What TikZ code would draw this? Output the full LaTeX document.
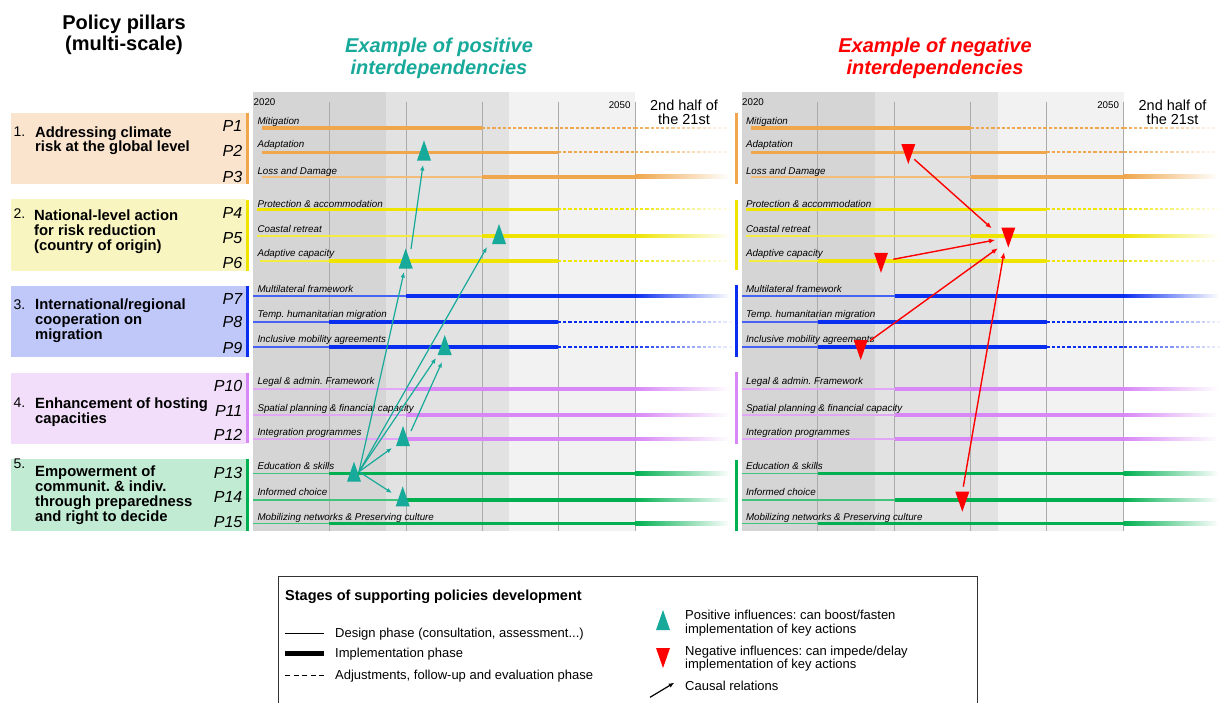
\documentclass[tikz,border=0pt]{standalone}
\usepackage{fontspec}
\setmainfont{Liberation Sans}
\usetikzlibrary{arrows.meta}
\frenchspacing
\definecolor{porange}{HTML}{EFA64C}
\definecolor{pyellow}{HTML}{EEE400}
\definecolor{pblue}{HTML}{0A2EF0}
\definecolor{ppurple}{HTML}{D888F6}
\definecolor{pgreen}{HTML}{00B050}
\definecolor{fillA}{HTML}{FBE4CE}
\definecolor{fillB}{HTML}{F8F5C0}
\definecolor{fillC}{HTML}{C0C8FA}
\definecolor{fillD}{HTML}{F2DEFA}
\definecolor{fillE}{HTML}{C2EBD3}
\definecolor{tealc}{HTML}{17A999}
\definecolor{redc}{HTML}{FF0000}
\definecolor{gdark}{HTML}{D5D5D5}
\definecolor{gmid}{HTML}{E2E2E2}
\definecolor{glight}{HTML}{F2F2F2}
\definecolor{gridc}{HTML}{ABABAB}
\tikzset{
  thinseg/.style={line width=1.6pt},
  thickseg/.style={line width=3.6pt},
  dashseg/.style={line width=1.9pt, dash pattern=on 3.2pt off 2pt},
  rowlabel/.style={anchor=base west, inner sep=0, font=\fontsize{9.8}{11}\selectfont\itshape},
  plabel/.style={anchor=base east, inner sep=0, font=\fontsize{16}{18}\selectfont\itshape},
  pillartext/.style={anchor=base west, inner sep=0, font=\fontsize{14.8}{15}\selectfont\bfseries},
  pillarnum/.style={anchor=base west, inner sep=0, font=\fontsize{14}{15}\selectfont},
  yeartext/.style={inner sep=0, font=\fontsize{9.75}{11}\selectfont},
  halftext/.style={anchor=base, inner sep=0, font=\fontsize{14.5}{15}\selectfont},
  titletext/.style={anchor=base, inner sep=0, font=\fontsize{20}{22}\selectfont\bfseries},
  extitle/.style={anchor=base, inner sep=0, font=\fontsize{20}{22}\selectfont\bfseries\itshape},
  legtext/.style={anchor=base west, inner sep=0, font=\fontsize{13}{14}\selectfont},
  trinode/.style={inner sep=0, outer sep=0, minimum width=14pt, minimum height=20pt},
  parrow/.style={tealc, line width=1.2pt, -{Latex[length=5.5pt,width=4.5pt]}},
  narrow/.style={redc, line width=1.4pt, -{Latex[length=6pt,width=5pt]}},
  larrow/.style={black, line width=1.2pt, -{Latex[length=5.5pt,width=4.5pt]}}
}
% row with dashed follow-up phase: xoff, y, colour, start, impl start, impl end
\newcommand\tlrowA[6]{%
  \draw[thinseg,#3!75!white] ({#1+#4},#2) -- ({#1+#5},#2);
  \draw[thickseg,#3] ({#1+#5},#2) -- ({#1+#6},#2);
  \draw[dashseg,#3] ({#1+#6},#2) -- ({#1+635},#2);
  \foreach \k in {0,...,18}{\pgfmathtruncatemacro\pp{96-5*\k}%
    \draw[dashseg,#3!\pp!white] ({#1+635+5.2*\k},#2) -- ++(3.2,0);}
}
% row with continued implementation: xoff, y, colour, start, impl start
\newcommand\tlrowB[5]{%
  \draw[thinseg,#3!75!white] ({#1+#4},#2) -- ({#1+#5},#2);
  \draw[thickseg,#3] ({#1+#5},#2) -- ({#1+635},#2);
  \shade[left color=#3, right color=white] ({#1+635},{#2-1.8}) rectangle ({#1+730},{#2+1.8});
}
\newcommand\postri[3]{\node[trinode] (#1) at (#2,#3) {};
  \fill[tealc] (#1.south west) -- (#1.south east) -- (#1.north) -- cycle;}
\newcommand\negtri[3]{\node[trinode] (#1) at (#2,#3) {};
  \fill[redc] (#1.north west) -- (#1.north east) -- (#1.south) -- cycle;}

\begin{document}
\frenchspacing
\begin{tikzpicture}[x=1pt,y=-1pt]
\useasboundingbox (0,0) rectangle (1225,702);
\fill[white] (0,0) rectangle (1225,702);

% titles
\node[titletext] (title1) at (124,29) {Policy pillars};
\node[titletext] (title2) at (124,50.5) {(multi-scale)};
\node[extitle, text=tealc] (pos1) at (439,52.5) {Example of positive};
\node[extitle, text=tealc] (pos2) at (439,74.5) {interdependencies};
\node[extitle, text=redc] (neg1) at (935,52.5) {Example of negative};
\node[extitle, text=redc] (neg2) at (935,74.5) {interdependencies};

% pillar boxes
\fill[fillA] (11,113.3) rectangle (246,184.3);
\fill[porange] (246,113.3) rectangle (249.3,184.3);
\fill[fillB] (11,199.3) rectangle (246,270.7);
\fill[pyellow] (246,200) rectangle (249.3,270.7);
\fill[fillC] (11,286) rectangle (246,357.3);
\fill[pblue] (246,285.7) rectangle (249.3,356.7);
\fill[fillD] (11,372.7) rectangle (246,444.3);
\fill[ppurple] (246,372.7) rectangle (249.3,443.3);
\fill[fillE] (11,459) rectangle (246,531);
\fill[pgreen] (246,459) rectangle (249.3,531);

% right-panel pillar bars
\fill[porange] (735,112.7) rectangle (738.3,184);
\fill[pyellow] (735,200) rectangle (738.3,270);
\fill[pblue] (735,285) rectangle (738.3,357);
\fill[ppurple] (735,372) rectangle (738.3,444);
\fill[pgreen] (735,460) rectangle (738.3,531);

% pillar texts
\node[pillarnum] (n1) at (13.3,136) {1.};
\node[pillartext] (p1a) at (35,137.3) {Addressing climate};
\node[pillartext] (p1b) at (35,151.7) {risk at the global level};
\node[pillarnum] (n2) at (13.3,218.3) {2.};
\node[pillartext] (p2a) at (34,220) {National-level action};
\node[pillartext] (p2b) at (34,235) {for risk reduction};
\node[pillartext] (p2c) at (34,250.7) {(country of origin)};
\node[pillarnum] (n3) at (13.3,309.3) {3.};
\node[pillartext] (p3a) at (35,309) {International/regional};
\node[pillartext] (p3b) at (35,324) {cooperation on};
\node[pillartext] (p3c) at (35,339.3) {migration};
\node[pillarnum] (n4) at (13.3,407.3) {4.};
\node[pillartext] (p4a) at (35,408.3) {Enhancement of hosting};
\node[pillartext] (p4b) at (35,423.3) {capacities};
\node[pillarnum] (n5) at (13.3,468.3) {5.};
\node[pillartext] (p5a) at (35,476.7) {Empowerment of};
\node[pillartext] (p5b) at (35,491.7) {communit. \& indiv.};
\node[pillartext] (p5c) at (35,506.7) {through preparedness};
\node[pillartext] (p5d) at (35,521.7) {and right to decide};

% P labels
\foreach \yb/\pt [count=\i] in {131.5/P1,156.6/P2,182.6/P3,218.8/P4,243.1/P5,268.1/P6,304.1/P7,327.8/P8,353.1/P9,391.5/P10,416.8/P11,440.8/P12,478.1/P13,502.5/P14,527.5/P15}
  \node[plabel] (plab\i) at (242.5,\yb) {\pt};

% panels
\foreach \xo/\pn in {0/L,488.5/R}{
  \fill[gdark] ({\xo+253},92) rectangle ({\xo+386},531);
  \fill[gmid] ({\xo+386},92) rectangle ({\xo+509},531);
  \fill[glight] ({\xo+509},92) rectangle ({\xo+635},531);
  \foreach \gx in {329,406,482,558,635}
    \draw[gridc, line width=1pt] ({\xo+\gx},101.7) -- ({\xo+\gx},531);
  \node[yeartext, anchor=base west] (y2020\pn) at ({\xo+253.5},105) {2020};
  \node[yeartext, anchor=base east] (y2050\pn) at ({\xo+630.7},108.3) {2050};
  \node[halftext] (halfa\pn) at ({\xo+684},110) {2nd half of};
  \node[halftext] (halfb\pn) at ({\xo+684},124.3) {the 21st};
  \tlrowA{\xo}{127.7}{porange}{262}{262}{482}
  \tlrowA{\xo}{152.3}{porange}{262}{262}{558}
  \tlrowB{\xo}{176.7}{porange}{262}{482}
  \tlrowA{\xo}{209.3}{pyellow}{257}{257}{558}
  \tlrowB{\xo}{236}{pyellow}{257}{482}
  \tlrowA{\xo}{261}{pyellow}{260}{329}{558}
  \tlrowB{\xo}{296}{pblue}{253}{406}
  \tlrowA{\xo}{321.7}{pblue}{253}{329}{558}
  \tlrowA{\xo}{346.7}{pblue}{253}{329}{558}
  \tlrowB{\xo}{389}{ppurple}{253}{406}
  \tlrowB{\xo}{415}{ppurple}{253}{406}
  \tlrowB{\xo}{439}{ppurple}{253}{406}
  \tlrowB{\xo}{473.3}{pgreen}{253}{329}
  \tlrowB{\xo}{500}{pgreen}{253}{406}
  \tlrowB{\xo}{523.3}{pgreen}{253}{329}
  \foreach \yb/\txt [count=\i] in {124/Mitigation,147.6/Adaptation,174.5/Loss and Damage,207/Protection \& accommodation,232.6/Coastal retreat,256/Adaptive capacity,292.6/Multilateral framework,317.6/Temp. humanitarian migration,342.6/Inclusive mobility agreements,384.3/Legal \& admin. Framework,411/Spatial planning \& financial capacity,435/Integration programmes,469.3/Education \& skills,495.6/Informed choice,520.6/Mobilizing networks \& Preserving culture}
    \node[rowlabel] (lab\pn\i) at ({\xo+257.3},\yb) {\txt};
}

% positive influences (left panel)
\postri{t1}{424}{150.5}
\postri{t2}{499}{234}
\postri{t3}{405.7}{258.5}
\postri{t4}{444.7}{345}
\postri{t5}{403}{436}
\postri{t6}{354}{471.7}
\postri{t7}{402.7}{496.3}
\draw[parrow] ([shift={(5.3,0.5)}]t3.north) -- ([shift={(-1,4.5)}]t1.south);
\draw[parrow] ([shift={(5,0)}]t6.center) -- ([shift={(-1.7,3.5)}]t3.south);
\draw[parrow] ([shift={(5,0)}]t6.center) -- ([shift={(-5,3)}]t2.south west);
\draw[parrow] ([shift={(5,0)}]t6.center) -- ([shift={(-1.7,3)}]t4.south west);
\draw[parrow] ([shift={(1,5)}]t5.north east) -- ([shift={(-2.7,7)}]t4.south);
\draw[parrow] ([shift={(5,0)}]t6.center) -- ([shift={(-4,2)}]t5.south west);
\draw[parrow] ([shift={(5,0)}]t6.center) -- ([shift={(-3.7,-3.3)}]t7.west);

% negative influences (right panel)
\negtri{r1}{908.3}{154}
\negtri{r2}{1008.3}{237.5}
\negtri{r3}{881}{262.8}
\negtri{r4}{860.7}{350}
\negtri{r5}{962.3}{501.7}
\draw[narrow] ([shift={(6,5.3)}]r1.center) -- ([shift={(-9.6,0.8)}]r2.north west);
\draw[narrow] ([shift={(5.3,-3.5)}]r3.east) -- ([shift={(-6.3,2.5)}]r2.west);
\draw[narrow] ([shift={(2.3,0.7)}]r4.north east) -- ([shift={(-3.6,0.8)}]r2.south west);
\draw[narrow] ([shift={(1,-5)}]r5.north) -- ([shift={(-4.3,4.8)}]r2.south);

% legend
\draw[black!80, line width=1.2pt] (278.3,703) -- (278.3,576.7) -- (977.7,576.7) -- (977.7,703);
\node[legtext, font=\fontsize{14.5}{15}\selectfont\bfseries] (legtitle) at (285,600) {Stages of supporting policies development};
\coordinate (ld1) at (285,633.3); \coordinate (ld2) at (324.3,633.3);
\draw[black, line width=1pt] (ld1) -- (ld2);
\node[legtext] (legdesign) at (335,637.8) {Design phase (consultation, assessment...)};
\coordinate (li1) at (285,653.3); \coordinate (li2) at (324.3,653.3);
\draw[black, line width=4.5pt] (li1) -- (li2);
\node[legtext] (legimpl) at (335,657.5) {Implementation phase};
\coordinate (la1) at (285,675.3); \coordinate (la2) at (325,675.3);
\draw[black, line width=1pt, dash pattern=on 5pt off 3.5pt] (la1) -- (la2);
\node[legtext] (legadj) at (335,679.5) {Adjustments, follow-up and evaluation phase};
\postri{lt}{663}{620}
\node[legtext] (legpos1) at (685,619.5) {Positive influences: can boost/fasten};
\node[legtext] (legpos2) at (685,633.5) {implementation of key actions};
\negtri{lr}{663}{658}
\node[legtext] (legneg1) at (685,655.5) {Negative influences: can impede/delay};
\node[legtext] (legneg2) at (685,668.5) {implementation of key actions};
\coordinate (lc1) at (650,697.3); \coordinate (lc2) at (674.3,682.7);
\draw[larrow] (lc1) -- (lc2);
\node[legtext] (legcausal) at (685,690.5) {Causal relations};
\end{tikzpicture}
\end{document}
